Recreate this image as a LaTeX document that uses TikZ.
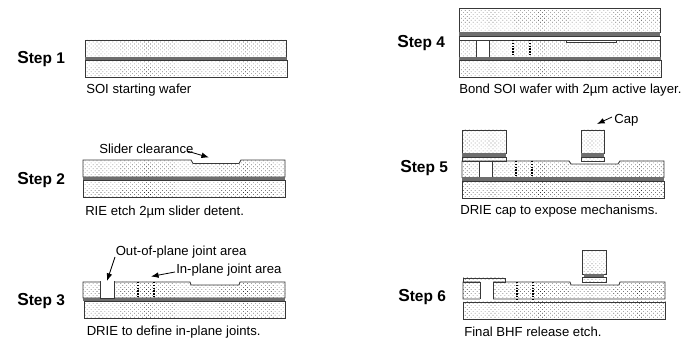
\documentclass[tikz,border=0pt]{standalone}
\usepackage{fontspec}
\setmainfont{Liberation Sans}
\usetikzlibrary{arrows.meta,patterns.meta}
\definecolor{OxideGray}{HTML}{6E6E6E}
\definecolor{EdgeDark}{HTML}{383838}
\begin{document}
\begin{tikzpicture}[
  x=0.75pt,y=-0.75pt,>=Latex,
  wafer/.style={draw=EdgeDark,line width=0.65pt,
    pattern={Dots[distance=2.1pt,radius=0.3pt,angle=45]},pattern color=black!80},
  oxide/.style={fill=OxideGray,draw=none},
  etch/.style={draw=EdgeDark,fill=white,line width=0.65pt},
  joint/.style={draw=black,densely dotted,line width=1.1pt},
  callout/.style={->,draw=black,line width=0.6pt},
  caption/.style={anchor=west,inner sep=0pt,font=\fontsize{9.85}{11}\selectfont},
  steplabel/.style={anchor=west,inner sep=0pt,font=\bfseries\fontsize{11.6}{13}\selectfont}
]
\useasboundingbox (0,0) rectangle (694,341);

% Step 1: plain SOI wafer
\node[steplabel] (s1) at (17,59) {{\fontsize{13}{13}\selectfont S}tep 1};
\draw[wafer] (85,40) rectangle (286,57);
\draw[wafer] (85,60) rectangle (287,77);
\fill[oxide] (85,57) rectangle (287,60);
\node[caption] (c1) at (86,90) {SOI starting wafer};

% Step 2: slider detent in the device layer
\node[steplabel] (s2) at (17,180) {{\fontsize{13}{13}\selectfont S}tep 2};
\draw[wafer] (83,160) -- (191,160) -- (193,163.5) -- (239,163.5) -- (241,160)
  -- (285,160) -- (285,177) -- (83,177) -- cycle;
\draw[wafer] (83,180) rectangle (285,197);
\fill[oxide] (83,177) rectangle (285,180);
\node[caption] (c2) at (85,212) {RIE etch 2µm slider detent.};
\node[caption] (clear) at (99,148.5) {Slider clearance};
\coordinate (clearfrom) at (187,151);
\coordinate (clearto) at (209,157.5);
\draw[callout] (clearfrom) -- (clearto);

% Step 3: trench and in-plane joints
\node[steplabel] (s3) at (17,301) {{\fontsize{13}{13}\selectfont S}tep 3};
\draw[wafer] (83,282) -- (190,282) -- (191,285) -- (239,285) -- (240,282)
  -- (285,282) -- (285,298) -- (83,298) -- cycle;
\draw[wafer] (84,301) rectangle (285,318);
\fill[oxide] (83,298) rectangle (285,301);
\draw[etch] (100,281.5) rectangle (114.5,298);
\draw[white,line width=1pt] (100.5,282) -- (114,282);
\draw[joint] (138,282) -- (138,298);
\draw[joint] (154,282) -- (154,298);
\node[caption] (oop) at (115.5,252) {Out-of-plane joint area};
\node[caption] (inp) at (176,270) {In-plane joint area};
\coordinate (oopfrom) at (115,257);
\coordinate (oopto) at (107,281);
\coordinate (inpfrom) at (175,272);
\coordinate (inpto) at (151,276.5);
\draw[callout] (oopfrom) -- (oopto);
\draw[callout] (inpfrom) -- (inpto);
\node[caption] (c3) at (86.5,332) {DRIE to define in-plane joints.};

% Step 4: cap wafer bonded on top
\node[steplabel] (s4) at (397,43) {{\fontsize{13}{13}\selectfont S}tep 4};
\draw[wafer] (459,8) rectangle (660,32);
\draw[wafer] (459,40) rectangle (660,57);
\draw[wafer] (459.5,60) rectangle (661,77);
\fill[oxide] (459,32) rectangle (660,36);
\draw[etch] (459,36) rectangle (660,40);
\draw[etch] (476,40) rectangle (489.5,57);
\draw[etch] (566,40.5) rectangle (616,42.5);
\draw[joint] (513,40) -- (513,57);
\draw[joint] (530,40) -- (530,57);
\fill[oxide] (459,57) rectangle (661,60);
\node[caption] (c4) at (459,90) {Bond SOI wafer with 2µm active layer.};

% Step 5: cap etched open over the mechanism
\node[steplabel] (s5) at (400,168) {{\fontsize{13}{13}\selectfont S}tep 5};
\draw[wafer] (462,130) rectangle (506,153);
\draw[wafer] (462,157.5) rectangle (506,161);
\fill[oxide] (462,153) rectangle (506,157.5);
\draw[wafer] (581,130) rectangle (604,153);
\draw[wafer] (581,157) rectangle (604,161);
\fill[oxide] (581,153) rectangle (604,157);
\draw[wafer] (462,161) -- (569,161) -- (571,164) -- (618,164) -- (620,161)
  -- (664,161) -- (664,177.5) -- (462,177.5) -- cycle;
\draw[etch] (479,161) rectangle (492,178);
\draw[joint] (516,161) -- (516,178);
\draw[joint] (532,161) -- (532,178);
\draw[wafer] (462.5,181) rectangle (664,198);
\fill[oxide] (462,177.5) rectangle (664,181);
\node[caption] (c5) at (460,211) {DRIE cap to expose mechanisms.};
\node[caption] (cap) at (614,120) {Cap};
\coordinate (capfrom) at (612,117);
\coordinate (capto) at (597,124);
\draw[callout] (capfrom) -- (capto);

% Step 6: release, oxide gone under the moving parts
\node[steplabel] (s6) at (398,297) {{\fontsize{13}{13}\selectfont S}tep 6};
\draw[wafer] (582,250.5) rectangle (606,274);
\fill[oxide] (584,274) rectangle (604,277.5);
\draw[wafer] (582,277.5) rectangle (606,282);
\draw[wafer] (463,278) rectangle (505,282);
\draw[wafer] (463,282) -- (570,282) -- (571,285) -- (619,285) -- (620,282)
  -- (665,282) -- (665,299) -- (463,299) -- cycle;
\fill[white] (480,281.5) rectangle (493,300);
\draw[EdgeDark,line width=0.5pt] (480,282) -- (480,299) (493,282) -- (493,299);
\draw[joint] (517,282) -- (517,299);
\draw[joint] (533,282) -- (533,299);
\draw[wafer] (463.5,302) rectangle (665.5,319);
\node[caption] (c6) at (464,332) {Final BHF release etch.};

\end{tikzpicture}
\end{document}
